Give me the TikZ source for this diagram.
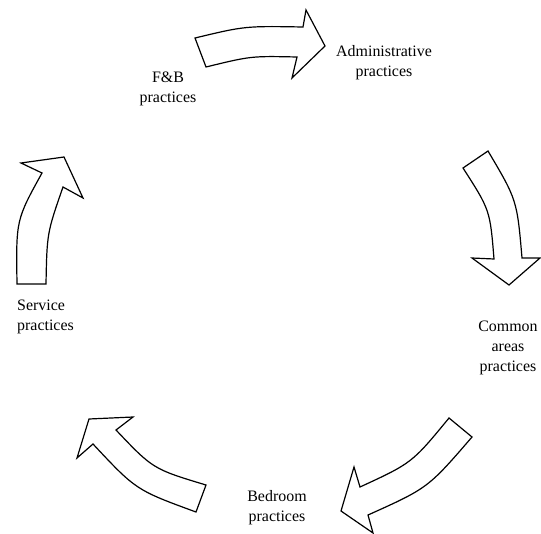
\documentclass[tikz,border=0pt]{standalone}
\usepackage{fontspec}
\setmainfont{Liberation Serif}
\begin{document}
\begin{tikzpicture}[x=1bp,y=-1bp,
  arrowshape/.style={draw=black,fill=white,line width=1.2bp,line join=miter},
  lbl/.style={align=center,inner sep=0pt,font=\fontsize{16}{20}\selectfont}]
\useasboundingbox (0,0) rectangle (541,534);
% top arrow (F&B -> Administrative)
\draw[arrowshape] (195,38) .. controls (245,26) .. (303,27) -- (306,10) -- (325,46) -- (292,78) -- (297,57)
  .. controls (251,56) .. (206,67) -- cycle;
% right arrow (Administrative -> Common areas)
\draw[arrowshape] (463,168) -- (488,151) .. controls (517,200) .. (522,258) -- (540,258) -- (509,285) -- (472,258) -- (494,259)
  .. controls (490,210) .. cycle;
% bottom-right arrow (Common areas -> Bedroom)
\draw[arrowshape] (449,418) -- (472,437) .. controls (428,488) .. (368,515) -- (373,533) -- (341,511) -- (354,467) -- (360,487)
  .. controls (412,463) .. cycle;
% bottom-left arrow (Bedroom -> Service)
\draw[arrowshape] (206,485) -- (196,512) .. controls (136,490) .. (93,444) -- (77,458) -- (89,419) -- (133,417) -- (116,430)
  .. controls (153,469) .. cycle;
% left arrow (Service -> F&B)
\draw[arrowshape] (17,284) -- (46,284) .. controls (47,233) .. (63,187) -- (83,198) -- (64,157) -- (21,163) -- (42,173)
  .. controls (16,220) .. cycle;
% labels
\node[lbl] (fb) at (168,89) {F\&B\\practices};
\node[lbl] (adm) at (384,63) {Administrative\\practices};
\node[lbl] (com) at (508,348) {Common\\areas\\practices};
\node[lbl] (bed) at (277,508) {Bedroom\\practices};
\node[lbl,align=left,anchor=west] (ser) at (17,317) {Service\\practices};
\end{tikzpicture}
\end{document}
